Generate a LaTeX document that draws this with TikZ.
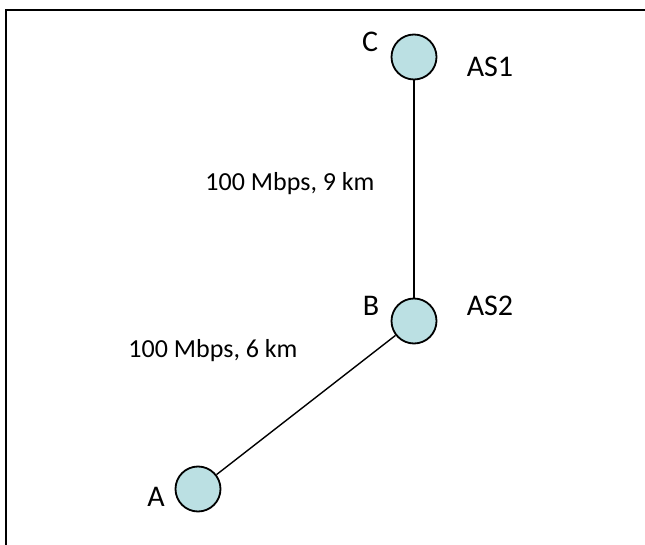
\documentclass[tikz,border=0pt]{standalone}
\usepackage{fontspec}
\setmainfont{Carlito}
\definecolor{routerfill}{HTML}{BBE0E3}
\tikzset{
  router/.style={circle,draw,line width=1.8pt,fill=routerfill,minimum size=45pt,inner sep=0pt},
  lbl/.style={font=\fontsize{26pt}{29pt}\selectfont,inner sep=0pt},
  aslbl/.style={font=\fontsize{30pt}{33pt}\selectfont,inner sep=0pt}
}
\begin{document}
\begin{tikzpicture}[x=1pt,y=-1pt]
  \useasboundingbox (0,0) rectangle (645,545);
  \draw[line width=2pt] (6,560) -- (6,10) -- (660,10);
  \node[router] (C) at (414,57) {};
  \node[router] (B) at (414,321) {};
  \node[router] (A) at (198,489) {};
  \draw[line width=1.4pt] (C) -- (B);
  \draw[line width=1.4pt] (B) -- (A);
  \node[aslbl] (lC) at (370,42) {C};
  \node[aslbl] (lB) at (371,306) {B};
  \node[aslbl] (lA) at (156,497) {A};
  \node[aslbl] (as1) at (490,67) {AS1};
  \node[aslbl] (as2) at (490,306) {AS2};
  \node[lbl] (bw1) at (290,184) {100 Mbps, 9 km};
  \node[lbl] (bw2) at (213,351) {100 Mbps, 6 km};
\end{tikzpicture}
\end{document}
